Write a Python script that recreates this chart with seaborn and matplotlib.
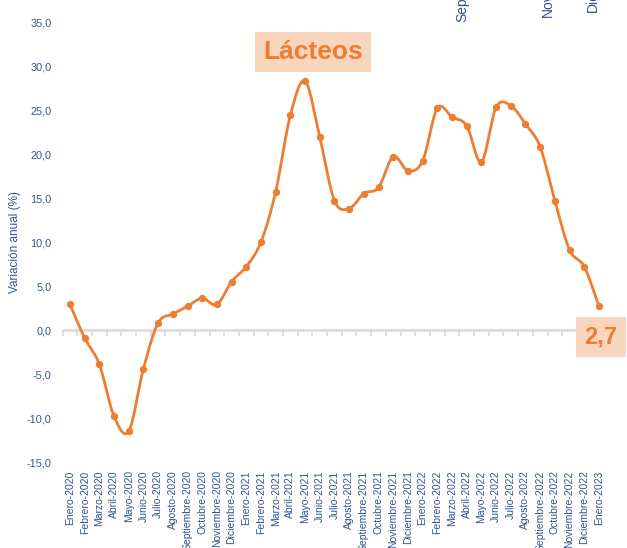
import numpy as np
import pandas as pd
import matplotlib
matplotlib.use("Agg")
import matplotlib.pyplot as plt
import seaborn as sns

months = ["Enero", "Febrero", "Marzo", "Abril", "Mayo", "Junio", "Julio", "Agosto",
          "Septiembre", "Octubre", "Noviembre", "Diciembre"]
categories = [f"{m}-{y}" for y in (2020, 2021, 2022) for m in months] + ["Enero-2023"]
values = [2.9, -0.9, -3.9, -9.8, -11.5, -4.4, 0.8, 1.8, 2.7, 3.6, 2.9, 5.5,
          7.2, 10.0, 15.7, 24.4, 28.3, 21.9, 14.7, 13.8, 15.5, 16.2, 19.7, 18.1,
          19.2, 25.2, 24.2, 23.2, 19.1, 25.3, 25.5, 23.4, 20.8, 14.7, 9.1, 7.2,
          2.7]
yticks = [-15, -10, -5, 0, 5, 10, 15, 20, 25, 30, 35]
title = "Lácteos"
last_label = "2,7"
stray_top = ["Septiembre-2022", "Noviembre-2022", "Diciembre-2022"]

ORANGE = "#ED7D31"
PEACH = "#F8D5BD"
BLUE = "#2F5491"

sns.set_theme(style="white")
plt.rcParams["font.family"] = ["Liberation Sans", "DejaVu Sans"]

df = pd.DataFrame({"idx": np.arange(len(values)), "val": values, "cat": categories})

# smooth curve (Catmull-Rom) through the data points, like Excel smoothed lines
def catmull(xs, ys, n=20):
    xs = np.asarray(xs, float); ys = np.asarray(ys, float)
    px = np.concatenate([[2*xs[0]-xs[1]], xs, [2*xs[-1]-xs[-2]]])
    py = np.concatenate([[2*ys[0]-ys[1]], ys, [2*ys[-1]-ys[-2]]])
    ox, oy = [], []
    t = np.linspace(0, 1, n, endpoint=False)
    for i in range(1, len(px)-2):
        for arr, out in ((px, ox), (py, oy)):
            p0, p1, p2, p3 = arr[i-1], arr[i], arr[i+1], arr[i+2]
            out.extend(0.5*((2*p1) + (-p0+p2)*t + (2*p0-5*p1+4*p2-p3)*t**2 + (-p0+3*p1-3*p2+p3)*t**3))
    ox.append(xs[-1]); oy.append(ys[-1])
    return np.array(ox), np.array(oy)

sx, sy = catmull(df["idx"], df["val"])
smooth = pd.DataFrame({"x": sx, "y": sy})

fig = plt.figure(figsize=(6.27, 5.48), dpi=100)
ax = fig.add_axes([62.6/627, 1-462/548, 543.7/627, 440/548])

sns.lineplot(data=smooth, x="x", y="y", ax=ax, color=ORANGE, lw=2, sort=False, zorder=3)
sns.scatterplot(data=df, x="idx", y="val", ax=ax, color=ORANGE, s=28, edgecolor=ORANGE,
                linewidth=0, zorder=4)

ax.set_xlim(-0.5, len(values)-0.5)
ax.set_ylim(-15, 35)
ax.set_yticks(yticks)
ax.set_yticklabels([f"{v:.1f}".replace(".", ",") for v in yticks], color=BLUE, fontsize=7.8)
ax.tick_params(axis="y", length=0, pad=8)
ax.set_ylabel("Variación anual (%)", color=BLUE, fontsize=8.5, labelpad=4)
ax.set_xlabel("")

for s in ("top", "right", "left"):
    ax.spines[s].set_visible(False)
ax.spines["bottom"].set_position(("data", 0))
ax.spines["bottom"].set_color("#D9D9D9")
ax.spines["bottom"].set_linewidth(1.8)
ax.spines["bottom"].set_zorder(1)
ax.set_xticks(np.arange(len(values)+1) - 0.5)
ax.set_xticklabels([])
ax.tick_params(axis="x", bottom=True, length=4, width=1.2, color="#D9D9D9", direction="out")

sec = ax.secondary_xaxis(0.0)
sec.set_xticks(np.arange(len(values)))
sec.set_xticklabels(categories, rotation=90, fontsize=7.5, color=BLUE)
sec.tick_params(length=0, pad=6)
sec.spines["bottom"].set_visible(False)

ax.grid(False)

# title box
fig.text(313/627, 1-52/548, title, ha="center", va="center", fontsize=19, fontweight="bold",
         color=ORANGE, bbox=dict(boxstyle="square,pad=0.3", fc=PEACH, ec="none"))
# last value label
fig.text(601/627, 1-337/548, last_label, ha="center", va="center", fontsize=17, fontweight="bold",
         color=ORANGE, bbox=dict(boxstyle="square,pad=0.35", fc=PEACH, ec="none"))

# stray clipped labels at the top
for xp, yp, t in zip([462, 548, 593], [22, 17, 12], stray_top):
    fig.text(xp/627, 1-yp/548, t, rotation=90, ha="center", va="bottom", fontsize=10, color=BLUE)

fig.savefig("out.png", dpi=100)
